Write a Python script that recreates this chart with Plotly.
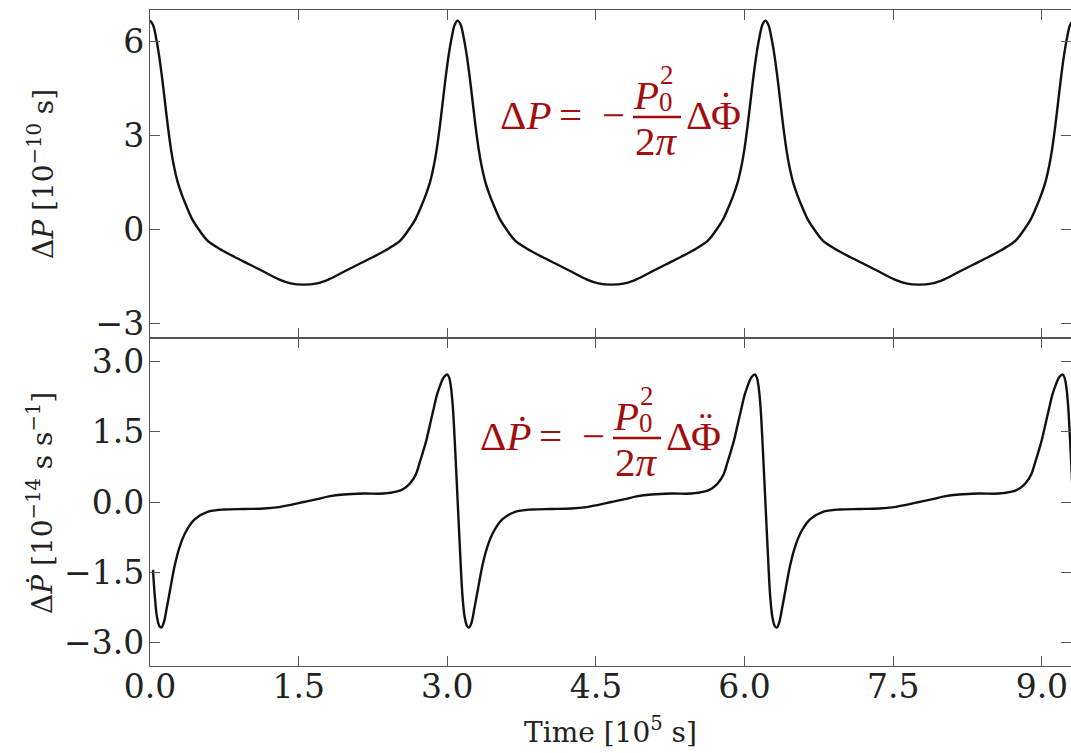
import plotly.graph_objects as go
from plotly.subplots import make_subplots

# ---------------- data ----------------
TIME_TOP = [
    0.00, 0.03, 0.06, 0.09, 0.12, 0.15, 0.18, 0.21, 0.24, 0.28, 0.32, 0.37, 0.43, 0.50, 0.58, 0.70, 0.85, 1.00, 1.15, 1.30, 1.42, 1.55,
    1.685, 1.805, 1.955, 2.105, 2.255, 2.405, 2.525, 2.605, 2.675, 2.735, 2.785, 2.825, 2.865, 2.895, 2.925, 2.955, 2.985, 3.015, 3.045, 3.075, 3.105,
    3.135, 3.165, 3.195, 3.225, 3.255, 3.285, 3.315, 3.345, 3.385, 3.425, 3.475, 3.535, 3.605, 3.685, 3.805, 3.955, 4.105, 4.255, 4.405, 4.525, 4.655,
    4.79, 4.91, 5.06, 5.21, 5.36, 5.51, 5.63, 5.71, 5.78, 5.84, 5.89, 5.93, 5.97, 6.00, 6.03, 6.06, 6.09, 6.12, 6.15, 6.18, 6.21,
    6.24, 6.27, 6.30, 6.33, 6.36, 6.39, 6.42, 6.45, 6.49, 6.53, 6.58, 6.64, 6.71, 6.79, 6.91, 7.06, 7.21, 7.36, 7.51, 7.63, 7.76,
    7.895, 8.015, 8.165, 8.315, 8.465, 8.615, 8.735, 8.815, 8.885, 8.945, 8.995, 9.035, 9.075, 9.105, 9.135, 9.165, 9.195, 9.225, 9.255, 9.285, 9.315,
]
DELTA_P = [
    6.68, 6.55, 6.15, 5.6, 4.9, 4.1, 3.3, 2.6, 2.05, 1.5, 1.12, 0.72, 0.3, -0.04, -0.36, -0.62, -0.88, -1.12, -1.36, -1.6, -1.73, -1.77,
    -1.73, -1.6, -1.36, -1.12, -0.88, -0.62, -0.36, -0.04, 0.3, 0.72, 1.12, 1.5, 2.05, 2.6, 3.3, 4.1, 4.9, 5.6, 6.15, 6.55, 6.68,
    6.55, 6.15, 5.6, 4.9, 4.1, 3.3, 2.6, 2.05, 1.5, 1.12, 0.72, 0.3, -0.04, -0.36, -0.62, -0.88, -1.12, -1.36, -1.6, -1.73, -1.77,
    -1.73, -1.6, -1.36, -1.12, -0.88, -0.62, -0.36, -0.04, 0.3, 0.72, 1.12, 1.5, 2.05, 2.6, 3.3, 4.1, 4.9, 5.6, 6.15, 6.55, 6.68,
    6.55, 6.15, 5.6, 4.9, 4.1, 3.3, 2.6, 2.05, 1.5, 1.12, 0.72, 0.3, -0.04, -0.36, -0.62, -0.88, -1.12, -1.36, -1.6, -1.73, -1.77,
    -1.73, -1.6, -1.36, -1.12, -0.88, -0.62, -0.36, -0.04, 0.3, 0.72, 1.12, 1.5, 2.05, 2.6, 3.3, 4.1, 4.9, 5.6, 6.15, 6.55, 6.68,
]

TIME_BOTTOM = [
    0.03, 0.048, 0.07, 0.095, 0.115, 0.14, 0.17, 0.205, 0.25, 0.30, 0.36, 0.45, 0.58, 0.75, 0.95, 1.15, 1.30, 1.42, 1.55,
    1.685, 1.805, 1.955, 2.155, 2.355, 2.485, 2.565, 2.625, 2.685, 2.72, 2.755, 2.79, 2.825, 2.86, 2.895, 2.93, 2.965, 3.0, 3.02, 3.04, 3.057, 3.08, 3.105,
    3.13, 3.153, 3.175, 3.2, 3.22, 3.245, 3.275, 3.31, 3.355, 3.405, 3.465, 3.555, 3.685, 3.855, 4.055, 4.255, 4.405, 4.525, 4.655,
    4.79, 4.91, 5.06, 5.26, 5.46, 5.59, 5.67, 5.73, 5.79, 5.825, 5.86, 5.895, 5.93, 5.965, 6.0, 6.035, 6.07, 6.105, 6.125, 6.145, 6.162, 6.185, 6.21,
    6.235, 6.258, 6.28, 6.305, 6.325, 6.35, 6.38, 6.415, 6.46, 6.51, 6.57, 6.66, 6.79, 6.96, 7.16, 7.36, 7.51, 7.63, 7.76,
    7.895, 8.015, 8.165, 8.365, 8.565, 8.695, 8.775, 8.835, 8.895, 8.93, 8.965, 9.0, 9.035, 9.07, 9.105, 9.14, 9.175, 9.21, 9.23, 9.25, 9.267, 9.29, 9.315,
]
DELTA_PDOT = [
    -1.45, -2.0, -2.45, -2.65, -2.68, -2.57, -2.25, -1.85, -1.35, -0.95, -0.64, -0.37, -0.21, -0.16, -0.15, -0.14, -0.11, -0.06, 0.0,
    0.06, 0.12, 0.16, 0.18, 0.18, 0.22, 0.29, 0.40, 0.6, 0.83, 1.07, 1.33, 1.65, 1.97, 2.28, 2.5, 2.66, 2.72, 2.65, 2.4, 2.0, 1.1, 0.0,
    -1.1, -2.0, -2.45, -2.65, -2.68, -2.57, -2.25, -1.85, -1.35, -0.95, -0.64, -0.37, -0.21, -0.16, -0.15, -0.14, -0.11, -0.06, 0.0,
    0.06, 0.12, 0.16, 0.18, 0.18, 0.22, 0.29, 0.40, 0.6, 0.83, 1.07, 1.33, 1.65, 1.97, 2.28, 2.5, 2.66, 2.72, 2.65, 2.4, 2.0, 1.1, 0.0,
    -1.1, -2.0, -2.45, -2.65, -2.68, -2.57, -2.25, -1.85, -1.35, -0.95, -0.64, -0.37, -0.21, -0.16, -0.15, -0.14, -0.11, -0.06, 0.0,
    0.06, 0.12, 0.16, 0.18, 0.18, 0.22, 0.29, 0.40, 0.6, 0.83, 1.07, 1.33, 1.65, 1.97, 2.28, 2.5, 2.66, 2.72, 2.65, 2.4, 2.0, 1.1, 0.0,
]

X_TICKS = [0.0, 1.5, 3.0, 4.5, 6.0, 7.5, 9.0]
X_TICK_LABELS = ["0.0", "1.5", "3.0", "4.5", "6.0", "7.5", "9.0"]
Y_TOP_TICKS = [-3, 0, 3, 6]
Y_BOTTOM_TICKS = [-3.0, -1.5, 0.0, 1.5, 3.0]
X_RANGE = [0.0, 9.294]
Y_TOP_RANGE = [-3.48, 7.02]
Y_BOTTOM_RANGE = [-3.5, 3.5]

# ---------------- figure ----------------
W, H = 1071, 753
ML, MR, MT, MB = 150, 0, 10, 87
PW, PH = W - ML - MR, H - MT - MB

def px(X):
    return (X - ML) / PW

def py(Y):
    return (H - MB - Y) / PH

fig = make_subplots(rows=2, cols=1, shared_xaxes=True, vertical_spacing=0)

LINE = dict(color="#111111", width=2.4, shape="spline", smoothing=0.9)
fig.add_trace(go.Scatter(x=TIME_TOP, y=DELTA_P, mode="lines", line=LINE, showlegend=False), row=1, col=1)
fig.add_trace(go.Scatter(x=TIME_BOTTOM, y=DELTA_PDOT, mode="lines", line=LINE, showlegend=False), row=2, col=1)

SPINE = "#555555"
TICKFONT = dict(family="DejaVu Serif", size=33, color="#222222")
common = dict(showline=True, linecolor=SPINE, linewidth=1.3, mirror="ticks",
              ticks="inside", ticklen=10, tickwidth=1.3, tickcolor=SPINE,
              showgrid=False, zeroline=False, tickfont=TICKFONT)

fig.update_xaxes(range=X_RANGE, tickvals=X_TICKS, ticktext=X_TICK_LABELS, ticklabelstandoff=-9, **common)
fig.update_xaxes(showticklabels=False, row=1, col=1)
fig.update_yaxes(range=Y_TOP_RANGE, tickvals=Y_TOP_TICKS, tickformat="d", ticklabelstandoff=-2,
                 row=1, col=1, **common)
fig.update_yaxes(range=Y_BOTTOM_RANGE, tickvals=Y_BOTTOM_TICKS, tickformat=".1f", ticklabelstandoff=-2,
                 row=2, col=1, **common)

annotations = []
TITLEFONT = dict(family="DejaVu Serif", size=28, color="#222222")
annotations.append(dict(text="Δ<i>P</i> [10<sup>−10</sup> s]", x=px(41), y=py(174),
                        xref="paper", yref="paper", textangle=-90, showarrow=False,
                        xanchor="center", yanchor="middle", font=TITLEFONT))
annotations.append(dict(text="Δ<i>P\u0307</i> [10<sup>−14</sup> s s<sup>−1</sup>]", x=px(41), y=py(503),
                        xref="paper", yref="paper", textangle=-90, showarrow=False,
                        xanchor="center", yanchor="middle", font=TITLEFONT))
annotations.append(dict(text="Time [10<sup>5</sup> s]", x=px(610), y=py(730),
                        xref="paper", yref="paper", showarrow=False,
                        xanchor="center", yanchor="middle", font=TITLEFONT))

RED = "#a30d0d"
EQF = "Liberation Serif"
shapes = []

def equation(dx, dy, lhs, dots):
    def a(text, X, Y, size, xanchor="center"):
        annotations.append(dict(text=text, x=px(X + dx), y=py(Y + dy), xref="paper", yref="paper",
                                showarrow=False, xanchor=xanchor, yanchor="middle",
                                font=dict(family=EQF, size=size, color=RED)))
    a(lhs, 553, 115, 41, "right")
    a("=", 570, 115, 41)
    a("−", 613, 115, 41)
    a("<i>P</i>", 646, 95, 41)
    a("2", 667, 75, 27)
    a("0", 666, 102, 27)
    a("2<i>π</i>", 656, 141, 41)
    a("Δ", 699, 115, 41)
    a("Φ", 726, 115, 41)
    a(dots, 726, 105, 41)
    shapes.append(dict(type="line", xref="paper", yref="paper",
                       x0=px(633 + dx), x1=px(681 + dx), y0=py(117 + dy), y1=py(117 + dy),
                       line=dict(color=RED, width=2.6)))

equation(0, 0, "Δ<i>P</i>", "\u02d9")
equation(-20, 321, "Δ<i>P\u0307</i>", "\u00a8")

fig.update_layout(width=W, height=H, margin=dict(l=ML, r=MR, t=MT, b=MB),
                  paper_bgcolor="white", plot_bgcolor="white",
                  annotations=annotations, shapes=shapes, showlegend=False)

fig.write_html("out.html", config={"displayModeBar": False},
               post_script="document.body.style.margin='0';document.body.style.overflow='hidden';")
